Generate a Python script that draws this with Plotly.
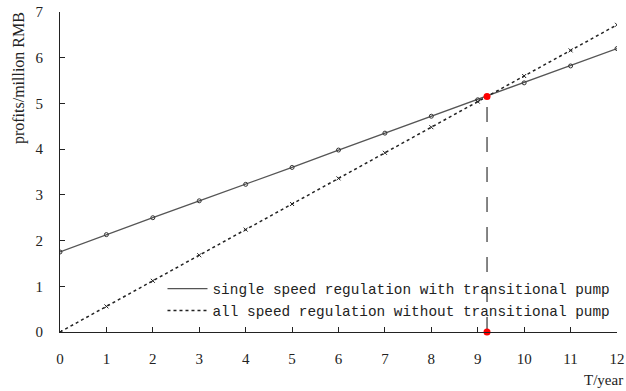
import plotly.graph_objects as go

years = [0, 1, 2, 3, 4, 5, 6, 7, 8, 9, 10, 11, 12]
single_speed = [1.75, 2.13, 2.50, 2.87, 3.23, 3.60, 3.98, 4.35, 4.72, 5.08, 5.45, 5.82, 6.20]
all_speed = [0.0, 0.56, 1.12, 1.68, 2.24, 2.80, 3.36, 3.92, 4.48, 5.04, 5.60, 6.16, 6.72]
cross_x = 9.2
cross_y = 5.15
names = ["single speed regulation with transitional pump",
         "all speed regulation without transitional pump"]

fig = go.Figure()
fig.add_trace(go.Scatter(x=years, y=single_speed, mode="lines", name=names[0],
                         line=dict(color="#555555", width=1.3)))
fig.add_trace(go.Scatter(x=years, y=all_speed, mode="lines", name=names[1],
                         line=dict(color="#222222", width=1.5, dash="dot")))
fig.add_trace(go.Scatter(x=years, y=single_speed, mode="markers", showlegend=False,
                         marker=dict(symbol="circle-open", size=4, color="#333333",
                                     line=dict(width=1))))
fig.add_trace(go.Scatter(x=years, y=all_speed, mode="markers", showlegend=False,
                         marker=dict(symbol="x-thin-open", size=4, color="#222222",
                                     line=dict(width=1))))
# vertical dashed line from intersection to axis
fig.add_trace(go.Scatter(x=[cross_x, cross_x], y=[0, cross_y], mode="lines", showlegend=False,
                         line=dict(color="#444444", width=1.3, dash="longdash")))
fig.add_trace(go.Scatter(x=[cross_x, cross_x], y=[cross_y, 0], mode="markers", showlegend=False,
                         marker=dict(color="red", size=7), cliponaxis=False))

fig.update_layout(
    width=626, height=391,
    margin=dict(l=60, r=9, t=12, b=59, autoexpand=False),
    plot_bgcolor="white", paper_bgcolor="white",
    font=dict(family="Liberation Serif, serif", size=15, color="#222222"),
    showlegend=True,
    legend=dict(x=0.184, y=0.185, xanchor="left", yanchor="top",
                bgcolor="rgba(0,0,0,0)",
                font=dict(family="Liberation Mono, monospace", size=14.4, color="#222222"),
                tracegroupgap=0, itemwidth=40),
    xaxis=dict(range=[0, 12], tickvals=years, showgrid=False, zeroline=False,
               showline=True, linecolor="#222222", linewidth=1,
               ticks="inside", ticklen=5, tickcolor="#222222",
               ticklabelstandoff=13),
    yaxis=dict(range=[0, 7], tickvals=list(range(8)), showgrid=False, zeroline=False,
               showline=True, linecolor="#222222", linewidth=1,
               ticks="inside", ticklen=5, tickcolor="#222222",
               ticklabelstandoff=13),
    annotations=[
        dict(text="T/year", xref="paper", yref="paper", x=1.014, y=-0.18,
             xanchor="right", yanchor="bottom", showarrow=False, font=dict(size=15)),
        dict(text="profits/million RMB", xref="paper", yref="paper", x=-0.0736, y=1.006,
             xanchor="center", yanchor="top", showarrow=False, textangle=-90,
             font=dict(size=16)),
    ],
)

fig.write_html("out.html", config={"displayModeBar": False},
               post_script="document.body.style.margin='0';")
